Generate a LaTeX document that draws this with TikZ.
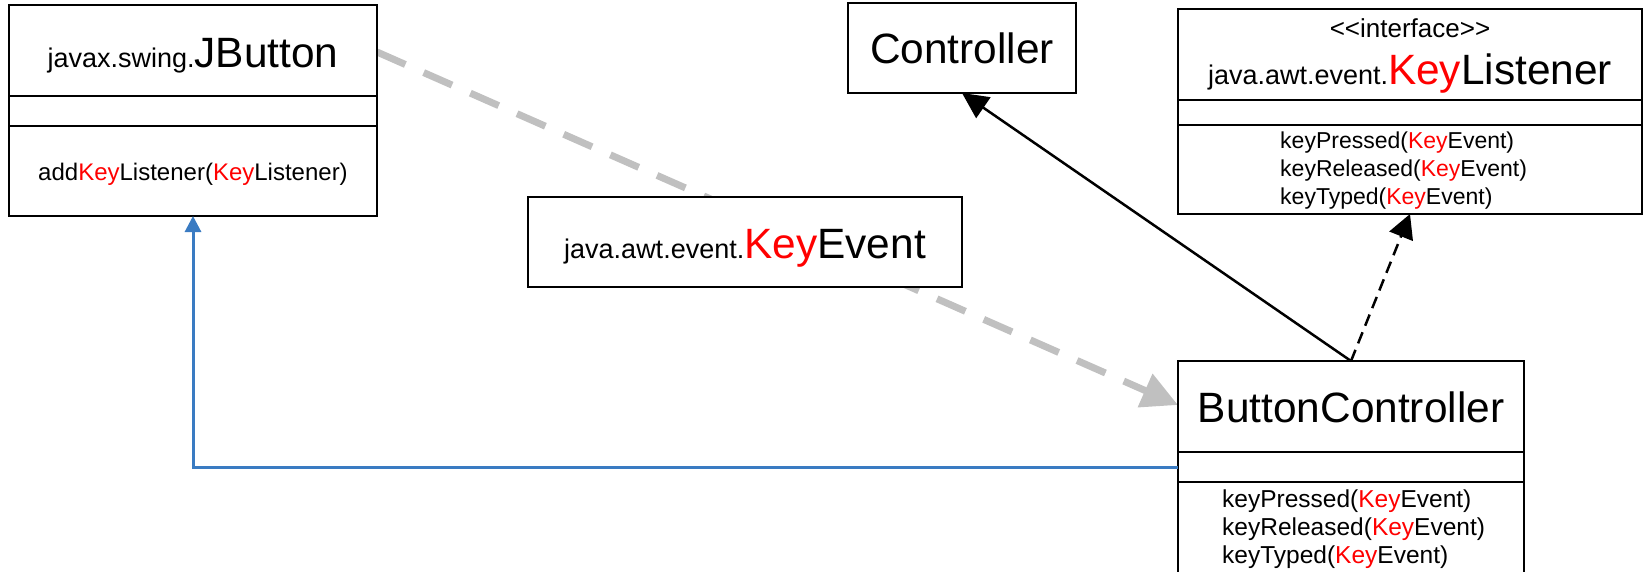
\documentclass[tikz,border=0pt]{standalone}
\usepackage{fontspec}
\setmainfont{Liberation Sans}
\usetikzlibrary{arrows.meta,calc,backgrounds}
\definecolor{keyred}{HTML}{FF0000}
\definecolor{umlgray}{HTML}{C0C0C0}
\definecolor{umlblue}{HTML}{3A7BC2}
\newcommand{\K}{\textcolor{keyred}{Key}}
\newcommand{\szBig}{\fontsize{42.4pt}{46pt}\selectfont}
\newcommand{\szMid}{\fontsize{27pt}{30pt}\selectfont}
\newcommand{\szSm}{\fontsize{23pt}{26pt}\selectfont}
\newcommand{\szSmB}{\fontsize{24pt}{27pt}\selectfont}
\newcommand{\szSmC}{\fontsize{24.5pt}{27pt}\selectfont}
\newcommand{\szIf}{\fontsize{26pt}{28pt}\selectfont}
\begin{document}
\begin{tikzpicture}[x=1pt,y=-1pt,
  umlbox/.style={draw, line width=2pt, fill=white, inner sep=0pt, outer sep=0pt, anchor=north west},
  divider/.style={line width=2pt},
  txt/.style={anchor=base, inner sep=0pt},
  meth/.style={anchor=base west, inner sep=0pt},
  graydash/.style={draw=umlgray, line width=7pt, dash pattern=on 31pt off 20pt,
     -{Triangle[length=36pt,width=35pt,fill=umlgray]}},
  bluearr/.style={draw=umlblue, line width=3pt, -{Triangle[length=16pt,width=16pt]}},
  solidarr/.style={draw=black, line width=2.5pt, -{Triangle[length=26pt,width=25pt]}},
  dasharr/.style={draw=black, line width=2.5pt, dash pattern=on 12pt off 7pt,
     -{Triangle[length=24pt,width=25pt]}}
]
\useasboundingbox (0,0) rectangle (1648,571);

% JButton
\node[umlbox, minimum width=368pt, minimum height=211pt] (jb) at (9,5) {};
\draw[divider] ($(jb.north west)+(0,91)$) -- ($(jb.north east)+(0,91)$);
\draw[divider] ($(jb.north west)+(0,121)$) -- ($(jb.north east)+(0,121)$);
\node[txt] (jbt) at (193,67) {\szMid javax.swing.\szBig JButton};
\node[txt, font=\szSmB] (jbm) at (193,180) {add\K Listener(\K Listener)};

% Controller
\node[umlbox, minimum width=228pt, minimum height=90pt] (ctrl) at (848,3) {};
\node[txt, font=\szBig] (ctrlt) at (962,63) {Controller};

% KeyListener
\node[umlbox, minimum width=464pt, minimum height=205pt] (kl) at (1178,9) {};
\draw[divider] ($(kl.north west)+(0,91)$) -- ($(kl.north east)+(0,91)$);
\draw[divider] ($(kl.north west)+(0,116)$) -- ($(kl.north east)+(0,116)$);
\node[txt, font=\szIf] (klst) at (1410,37) {<\kern0pt<interface>\kern0pt>};
\node[txt] (klt) at (1410,84) {\szMid java.awt.event.\szBig\K Listener};
\node[meth, font=\szSm] (klm1) at (1280,148) {keyPressed(\K Event)};
\node[meth, font=\szSm] (klm2) at (1280,176) {keyReleased(\K Event)};
\node[meth, font=\szSm] (klm3) at (1280,204) {keyTyped(\K Event)};

% KeyEvent
\node[umlbox, minimum width=434pt, minimum height=90pt] (ke) at (528,197) {};
\node[txt] (ket) at (745,258) {\szMid java.awt.event.\szBig\K Event};

% ButtonController
\node[umlbox, minimum width=346pt, minimum height=222pt] (bc) at (1178,361) {};
\draw[divider] ($(bc.north west)+(0,91)$) -- ($(bc.north east)+(0,91)$);
\draw[divider] ($(bc.north west)+(0,121)$) -- ($(bc.north east)+(0,121)$);
\node[txt, font=\szBig] (bct) at (1351,422) {ButtonController};
\node[meth, font=\szSmC] (bcm1) at (1222,507) {keyPressed(\K Event)};
\node[meth, font=\szSmC] (bcm2) at (1222,535) {keyReleased(\K Event)};
\node[meth, font=\szSmC] (bcm3) at (1222,563) {keyTyped(\K Event)};

% connectors
\begin{pgfonlayer}{background}
\draw[graydash] ([yshift=-47pt]jb.north east) -- ([yshift=-44pt]bc.north west);
\end{pgfonlayer}
\draw[bluearr] ([yshift=-106pt]bc.north west) -| (jb.south);
\draw[solidarr] (bc.north) -- (ctrl.south);
\draw[dasharr] (bc.north) -- (kl.south);
\end{tikzpicture}
\end{document}
